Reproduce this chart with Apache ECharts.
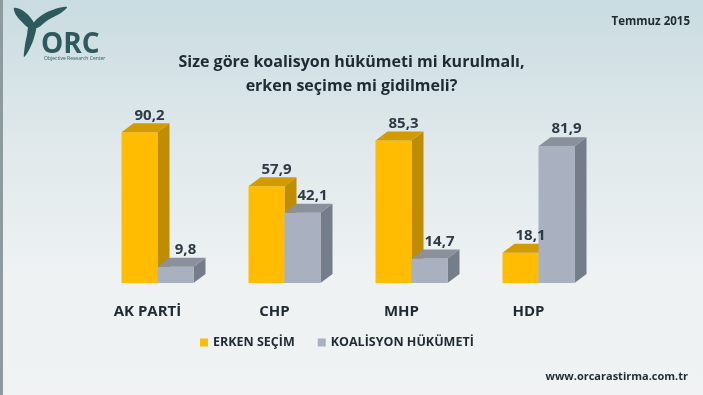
<!DOCTYPE html>
<html>
<head>
<meta charset="utf-8">
<script src="https://cdn.jsdelivr.net/npm/echarts@6/dist/echarts.min.js"></script>
<style>
html,body{margin:0;padding:0;}
body{width:703px;height:395px;overflow:hidden;background:linear-gradient(180deg,#c9dce1 0%,#dfe8eb 35%,#eef2f3 70%,#f0f2f3 100%);}
#c{width:703px;height:395px;}
</style>
</head>
<body>
<div id="c"></div>
<script>
const categories = ['AK PARTİ', 'CHP', 'MHP', 'HDP'];
const erkenSecim = [90.2, 57.9, 85.3, 18.1];
const koalisyon = [9.8, 42.1, 14.7, 81.9];
const seriesNames = ['ERKEN SEÇİM', 'KOALİSYON HÜKÜMETİ'];

const palettes = [
  {front: '#ffbc00', side: '#c08c00', top: '#d29b00'},
  {front: '#a9b1c1', side: '#757d8a', top: '#8a919d'}
];
const BAR_W = 36, DX = 12, DY = 9;

function fmt(v){ return String(v).replace('.', ','); }

function geom(idx, api){
  const ci = api.value(0), v = api.value(1);
  const base = api.coord([ci, 0]);
  const top = api.coord([ci, v]);
  const x0 = base[0] + (idx === 0 ? -BAR_W : 0);
  return {v: v, x0: x0, x1: x0 + BAR_W, yb: base[1], yt: top[1]};
}

function makeRender(idx){
  return function(params, api){
    const g = geom(idx, api);
    const p = palettes[idx];
    return {
      type: 'group',
      children: [
        {type: 'polygon', shape: {points: [[g.x1, g.yt], [g.x1 + DX, g.yt - DY], [g.x1 + DX, g.yb - DY], [g.x1, g.yb]]}, style: {fill: p.side}},
        {type: 'rect', shape: {x: g.x0, y: g.yt, width: BAR_W, height: g.yb - g.yt}, style: {fill: p.front}},
        {type: 'polygon', shape: {points: [[g.x0, g.yt], [g.x0 + DX, g.yt - DY], [g.x1 + DX, g.yt - DY], [g.x1, g.yt]]}, style: {fill: p.top}}
      ]
    };
  };
}

function makeLabel(idx){
  return function(params, api){
    const g = geom(idx, api);
    return {type: 'text', style: {text: fmt(g.v), x: g.x0 + BAR_W / 2 + 10, y: g.yt - DY - 8, align: 'center', verticalAlign: 'middle', fill: '#2e3a44', font: 'bold 15px "Open Sans", sans-serif'}};
  };
}

const chart = echarts.init(document.getElementById('c'), null, {renderer: 'canvas'});
chart.setOption({
  animation: false,
  backgroundColor: 'transparent',
  title: {
    text: 'Size göre koalisyon hükümeti mi kurulmalı,\nerken seçime mi gidilmeli?',
    left: 'center', top: 45,
    textStyle: {fontFamily: '"Open Sans", sans-serif', fontWeight: 'bold', fontSize: 16, lineHeight: 24, color: '#1f2a33'}
  },
  legend: {
    left: 195, top: 331, itemWidth: 8, itemHeight: 8, itemGap: 23, icon: 'rect',
    textStyle: {fontFamily: '"Open Sans", sans-serif', fontWeight: 'bold', fontSize: 12.5, color: '#1f2a33'},
    data: seriesNames
  },
  grid: {left: 94, right: 101, top: 116, bottom: 112},
  xAxis: {
    type: 'category', data: categories,
    axisLine: {show: false}, axisTick: {show: false},
    axisLabel: {margin: 21, fontFamily: '"Open Sans", sans-serif', fontWeight: 'bold', fontSize: 15, color: '#1f2a33', padding: [0, 20, 0, 0]}
  },
  yAxis: {type: 'value', min: 0, max: 100, show: false, splitLine: {show: false}},
  series: [
    {name: seriesNames[0], type: 'custom', itemStyle: {color: palettes[0].front}, renderItem: makeRender(0), data: erkenSecim.map((v, i) => [i, v]), encode: {x: 0, y: 1}, z: 2},
    {name: seriesNames[1], type: 'custom', itemStyle: {color: palettes[1].front}, renderItem: makeRender(1), data: koalisyon.map((v, i) => [i, v]), encode: {x: 0, y: 1}, z: 3},
    {name: 'labels0', type: 'custom', renderItem: makeLabel(0), data: erkenSecim.map((v, i) => [i, v]), encode: {x: 0, y: 1}, z: 10, silent: true},
    {name: 'labels1', type: 'custom', renderItem: makeLabel(1), data: koalisyon.map((v, i) => [i, v]), encode: {x: 0, y: 1}, z: 10, silent: true}
  ],
  graphic: [
    {type: 'rect', left: 0, top: 0, shape: {width: 3, height: 395}, style: {fill: '#8d9a9e'}, silent: true},
    {type: 'polygon', shape: {points: [[14, 8], [22, 10], [30, 17], [35, 26], [29, 28], [22, 22], [16, 15]], smooth: 0.3}, style: {fill: '#2f5a5d'}},
    {type: 'polygon', shape: {points: [[33, 24], [42, 15], [55, 9], [67, 7], [61, 13], [48, 20], [37, 28]], smooth: 0.3}, style: {fill: '#2f5a5d'}},
    {type: 'polygon', shape: {points: [[29, 26], [36, 26], [34, 38], [29, 50], [24, 57], [25, 45], [27, 35]], smooth: 0.3}, style: {fill: '#2f5a5d'}},
    {type: 'text', left: 41, top: 31, style: {text: 'ORC', font: 'bold 28px "Open Sans", sans-serif', fill: '#2f5a5d'}},
    {type: 'text', left: 44, top: 56, style: {text: 'Objective Research Center', font: '5px "Open Sans", sans-serif', fill: '#2f5a5d'}},
    {type: 'text', right: 13, top: 16, style: {text: 'Temmuz 2015', font: 'bold 11.5px "Open Sans", sans-serif', fill: '#1f2a33'}},
    {type: 'text', right: 15, top: 371, style: {text: 'www.orcarastirma.com.tr', font: 'bold 11px "Open Sans", sans-serif', fill: '#1f2a33'}}
  ]
});
</script>
</body>
</html>
